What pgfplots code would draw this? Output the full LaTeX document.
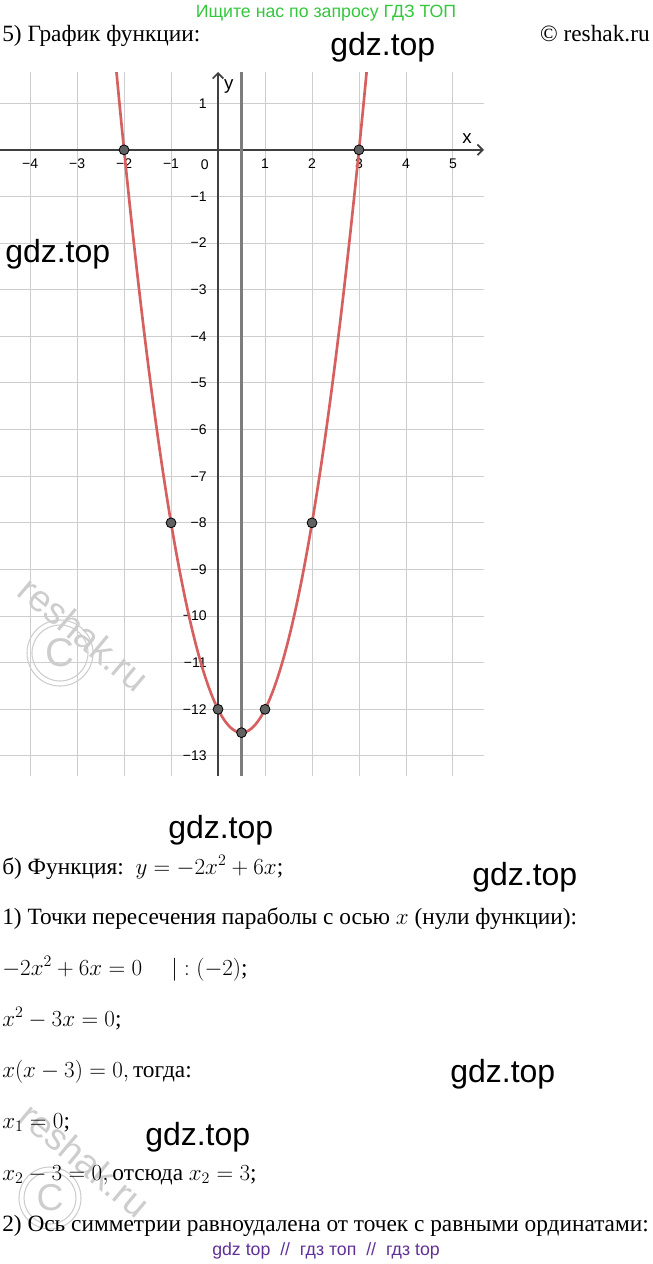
\documentclass[border=0pt]{standalone}
\usepackage{pgfplots}
\pgfplotsset{compat=1.18}
\usepackage{pgfplotstable}
\usetikzlibrary{arrows.meta}
\usepackage{fontspec}
\setmainfont{Liberation Serif}
\newfontfamily\sans{Liberation Sans}
\definecolor{curvered}{RGB}{214,96,96}
\definecolor{ptgray}{RGB}{97,97,97}
\definecolor{axgray}{RGB}{64,64,64}
\definecolor{symgray}{RGB}{125,125,125}
\definecolor{gridgray}{RGB}{206,206,206}
\definecolor{hdrgreen}{RGB}{52,199,60}
\definecolor{ftpurple}{RGB}{96,48,150}
\definecolor{wm}{RGB}{205,205,205}
\newcommand\body{\fontsize{17.5}{21}\selectfont}
\newcommand\gdz{\sans\fontsize{24}{24}\selectfont}
\newcommand\tickf{\sans\fontsize{10.5}{11}\selectfont}

\pgfplotstableread{
x y
-2.2 2.08
-2.1 1.02
-2.0 0
-1.9 -0.98
-1.8 -1.92
-1.7 -2.82
-1.6 -3.68
-1.5 -4.5
-1.4 -5.28
-1.3 -6.02
-1.2 -6.72
-1.1 -7.38
-1.0 -8
-0.9 -8.58
-0.8 -9.12
-0.7 -9.62
-0.6 -10.08
-0.5 -10.5
-0.4 -10.88
-0.3 -11.22
-0.2 -11.52
-0.1 -11.78
0.0 -12
0.1 -12.18
0.2 -12.32
0.3 -12.42
0.4 -12.48
0.5 -12.5
0.6 -12.48
0.7 -12.42
0.8 -12.32
0.9 -12.18
1.0 -12
1.1 -11.78
1.2 -11.52
1.3 -11.22
1.4 -10.88
1.5 -10.5
1.6 -10.08
1.7 -9.62
1.8 -9.12
1.9 -8.58
2.0 -8
2.1 -7.38
2.2 -6.72
2.3 -6.02
2.4 -5.28
2.5 -4.5
2.6 -3.68
2.7 -2.82
2.8 -1.92
2.9 -0.98
3.0 0
3.1 1.02
3.2 2.08
}\parabola

\pgfplotstableread{
x y
-2 0
3 0
-1 -8
2 -8
0 -12
1 -12
0.5 -12.5
}\keypoints

\begin{document}
\begin{tikzpicture}[x=0.75pt,y=-0.75pt]
\path[use as bounding box] (0,0) rectangle (653,1264);
\coordinate (axnw) at (0,72);
\begin{axis}[at={(axnw)}, anchor=north west, scale only axis,
  width=363pt, height=528pt,
  xmin=-4.64, xmax=5.66, ymin=-13.43, ymax=1.67,
  axis lines=middle,
  x axis line style={draw=axgray, line width=1.3pt, -{Straight Barb[length=4pt,width=8pt]}},
  y axis line style={draw=axgray, line width=1.3pt, -{Straight Barb[length=4pt,width=8pt]}},
  grid=major, grid style={draw=gridgray, line width=0.75pt},
  major tick length=0,
  xtick={-4,-3,-2,-1,1,2,3,4,5},
  xticklabels={−4,−3,−2,−1,1,2,3,4,5},
  ytick={1,-1,-2,-3,-4,-5,-6,-7,-8,-9,-10,-11,-12,-13},
  yticklabels={1,−1,−2,−3,−4,−5,−6,−7,−8,−9,−10,−11,−12,−13},
  tick label style={font=\tickf},
  xticklabel style={anchor=north, yshift=-3pt},
  yticklabel style={anchor=east, xshift=-5pt},
  /pgf/number format/assume math mode=true,
]
\addplot[symgray, line width=2.2pt] coordinates {(0.5,-13.43) (0.5,1.67)};
\addplot[curvered, line width=2pt, smooth] table {\parabola};
\addplot[only marks, mark=*, mark size=3.7pt, mark options={fill=ptgray, draw=black, line width=0.6pt}] table {\keypoints};
\node[font=\sans\fontsize{14}{14}\selectfont, inner sep=0] at (axis cs:5.3,0.24) {x};
\node[font=\sans\fontsize{14}{14}\selectfont, inner sep=0] at (axis cs:0.23,1.35) {y};
\node[font=\tickf, inner sep=0] at (axis cs:-0.28,-0.32) {0};
\end{axis}

% reshak watermarks
\node[rotate=-40, text=wm, font=\sans\fontsize{28}{28}\selectfont] at (84,634) {reshak.ru};
\draw[wm, line width=0.8pt] (60,653) circle (33);
\draw[wm, line width=0.8pt] (60,653) circle (28);
\node[text=wm, font=\sans\fontsize{30}{30}\selectfont] at (60,653) {C};
\node[rotate=-40, text=wm, font=\sans\fontsize{28}{28}\selectfont] at (85,1160) {reshak.ru};
\draw[wm, line width=0.8pt] (50,1198) circle (31);
\draw[wm, line width=0.8pt] (50,1198) circle (26);
\node[text=wm, font=\sans\fontsize{28}{28}\selectfont] at (50,1198) {C};

% header
\node[anchor=base, inner sep=0, text=hdrgreen, font=\sans\fontsize{13.3}{15}\selectfont] at (326,17) {Ищите нас по запросу ГДЗ ТОП};
\node[anchor=base west, inner sep=0, font=\body] at (2,41) {5) График функции:};
\node[anchor=base east, inner sep=0, font=\body] at (650,41) {© reshak.ru};

% gdz watermarks
\node[anchor=base west, inner sep=0, font=\gdz] at (330,55) {gdz.top};
\node[anchor=base west, inner sep=0, font=\gdz] at (5,262) {gdz.top};
\node[anchor=base west, inner sep=0, font=\gdz] at (168,838) {gdz.top};
\node[anchor=base west, inner sep=0, font=\gdz] at (472,885) {gdz.top};
\node[anchor=base west, inner sep=0, font=\gdz] at (450,1082) {gdz.top};
\node[anchor=base west, inner sep=0, font=\gdz] at (145,1145) {gdz.top};

% body text
\node[anchor=base west, inner sep=0, font=\body] at (2,874) {б) Функция:\ \ $y=-2x^2+6x$;};
\node[anchor=base west, inner sep=0, font=\body] at (2,924) {1) Точки пересечения параболы с осью $x$ (нули функции):};
\node[anchor=base west, inner sep=0, font=\body] at (2,975) {$-2x^2+6x=0\quad\ |:(-2)$;};
\node[anchor=base west, inner sep=0, font=\body] at (2,1026) {$x^2-3x=0$;};
\node[anchor=base west, inner sep=0, font=\body] at (2,1077) {$x(x-3)=0,$\,тогда:};
\node[anchor=base west, inner sep=0, font=\body] at (2,1128) {$x_1=0$;};
\node[anchor=base west, inner sep=0, font=\body] at (2,1180) {$x_2-3=0,$\,отсюда $x_2=3$;};
\node[anchor=base west, inner sep=0, font=\body] at (2,1231) {2) Ось симметрии равноудалена от точек с равными ординатами:};

% footer
\node[anchor=base, inner sep=0, text=ftpurple, font=\sans\fontsize{13.3}{15}\selectfont] at (326,1255) {gdz top \ // \ гдз топ \ // \ гдз top};
\end{tikzpicture}
\end{document}
